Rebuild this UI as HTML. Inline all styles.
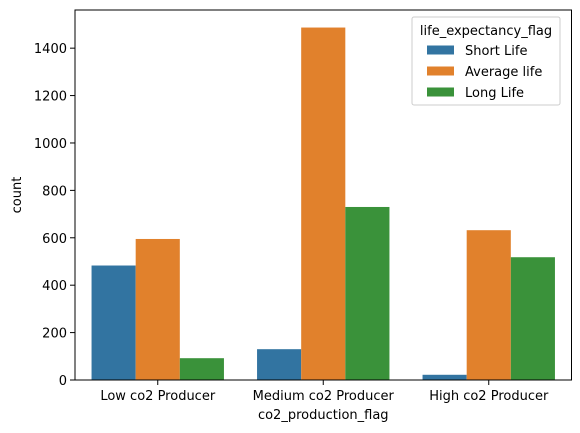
<!DOCTYPE html>
<html><head><meta charset="utf-8"><style>
body{margin:0;background:#fff;}
svg{display:block;font-family:"DejaVu Sans","Liberation Sans",sans-serif;}
</style></head><body>
<svg id="chart" width="580" height="433">
<g id="bars"></g>
<g id="axes"></g>
</svg>
<script>
const categories = ["Low co2 Producer","Medium co2 Producer","High co2 Producer"];
const seriesNames = ["Short Life","Average life","Long Life"];
const shortLife = [483, 130, 22];
const averageLife = [595, 1487, 632];
const longLife = [92, 730, 518];
const yTicks = [0,200,400,600,800,1000,1200,1400];
const colors = ["#3274a1","#e1812c","#3a923a"];
const series = [shortLife, averageLife, longLife];

const L=75,R=571.5,T=10,B=380;
const ymax=1561;
const FS=13;
const y=v=>B-v/ymax*(B-T);
const band=(R-L)/categories.length;
const x=i=>L+band*(i+0.5);
const NS="http://www.w3.org/2000/svg";
function mk(tag,attrs,parent,text){const e=document.createElementNS(NS,tag);for(const k in attrs)e.setAttribute(k,attrs[k]);if(text!==undefined)e.textContent=text;parent.appendChild(e);return e;}
const bars=document.getElementById('bars'), axes=document.getElementById('axes');
const bw=band*0.8/3;
series.forEach((s,si)=>{s.forEach((v,ci)=>{
  const r=mk('rect',{x:x(ci)-band*0.4+si*bw,y:y(v),width:bw,height:B-y(v),fill:colors[si]},bars);
  
  
});});
yTicks.forEach(t=>{
  const ln=mk('line',{x1:L-5,x2:L,y1:y(t),y2:y(t),stroke:'#000','stroke-width':1},axes);
  
  
  const tx=mk('text',{x:L-8,y:y(t)+5,'text-anchor':'end','font-size':FS},axes,t);
  
  
});
categories.forEach((c,i)=>{
  const ln=mk('line',{x1:x(i),x2:x(i),y1:B,y2:B+5,stroke:'#000','stroke-width':1},axes);
  
  
  const tx=mk('text',{x:x(i),y:B+20,'text-anchor':'middle','font-size':FS},axes,c);
  
  
});
const fr=mk('rect',{x:L,y:T,width:R-L,height:B-T,fill:'none',stroke:'#000','stroke-width':1},axes);


const xt=mk('text',{x:(L+R)/2,y:B+39,'text-anchor':'middle','font-size':FS},axes,'co2_production_flag');


const yt=mk('text',{x:0,y:0,'text-anchor':'middle','font-size':FS,transform:`translate(21,${(T+B)/2}) rotate(-90)`},axes,'count');


const lg=mk('g',{},axes);


mk('rect',{x:412,y:17,width:148,height:88,rx:2,fill:'#fff','fill-opacity':0.8,stroke:'#ccc','stroke-width':1},lg);
const lt=mk('text',{x:486,y:35,'text-anchor':'middle','font-size':FS},lg,'life_expectancy_flag');


seriesNames.forEach((n,i)=>{
  const cy=50+i*21;
  const sw=mk('rect',{x:427,y:cy-4.5,width:27,height:9,fill:colors[i]},lg);
  
  
  const t=mk('text',{x:465,y:cy+5,'font-size':FS},lg,n);
  
  
});
</script>
</body></html>
